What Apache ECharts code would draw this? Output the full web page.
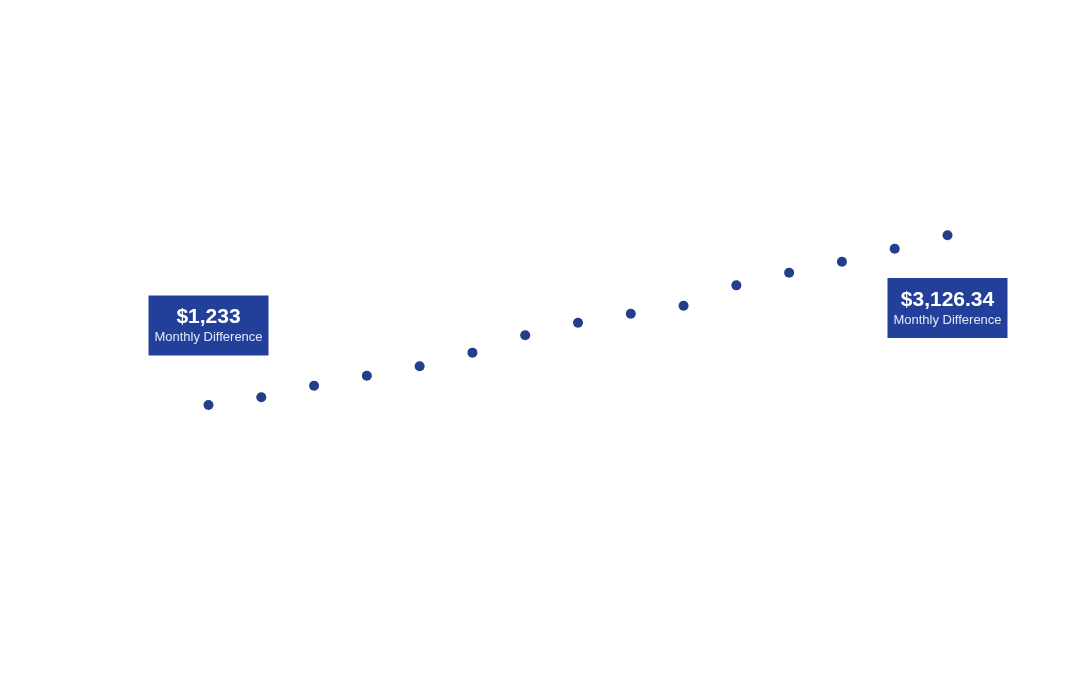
<!DOCTYPE html>
<html>
<head>
<meta charset="utf-8">
<script src="https://cdn.jsdelivr.net/npm/echarts@6/dist/echarts.min.js"></script>
<style>
html, body { margin: 0; padding: 0; background: #fff; }
#main { width: 1075px; height: 685px; }
</style>
</head>
<body>
<div id="main"></div>
<script>
// periods along the x axis (unlabelled in the picture)
var periods = ['1', '2', '3', '4', '5', '6', '7', '8', '9', '10', '11', '12', '13', '14', '15'];
// monthly difference per period
var monthlyDiff = [1233, 1319, 1448, 1560, 1665, 1817, 2011, 2151, 2252, 2341, 2568, 2709, 2832, 2977, 3126.34];
var firstLabel = '$1,233';
var lastLabel = '$3,126.34';
var subLabel = 'Monthly Difference';

var chart = echarts.init(document.getElementById('main'));

function boxLabel(title, pos, dist) {
    return {
        show: true,
        position: pos,
        distance: dist,
        formatter: '{a|' + title + '}\n{b|' + subLabel + '}',
        backgroundColor: '#22409a',
        width: 120,
        align: 'center',
        padding: [9, 0, 11, 0],
        rich: {
            a: { color: '#fff', fontSize: 21, fontWeight: 'bold', lineHeight: 26, fontFamily: 'Liberation Sans', align: 'center' },
            b: { color: '#e3e8f5', fontSize: 13, lineHeight: 14, fontFamily: 'Liberation Sans', align: 'center' }
        }
    };
}

var points = monthlyDiff.map(function (v, i) {
    var item = { value: v };
    if (i === 0) item.label = boxLabel(firstLabel, 'top', 44.5);
    if (i === monthlyDiff.length - 1) item.label = boxLabel(lastLabel, 'bottom', 37.7);
    return item;
});

var option = {
    animation: false,
    grid: { left: 208.5, right: 127.5, top: 157, bottom: 169.5 },
    xAxis: {
        type: 'category',
        data: periods,
        boundaryGap: false,
        show: false
    },
    yAxis: {
        type: 'value',
        min: 0,
        max: 4000,
        show: false
    },
    series: [
        {
            type: 'scatter',
            data: points,
            symbolSize: 10,
            itemStyle: { color: '#233e8b', opacity: 1 }
        }
    ]
};

chart.setOption(option);
</script>
</body>
</html>
